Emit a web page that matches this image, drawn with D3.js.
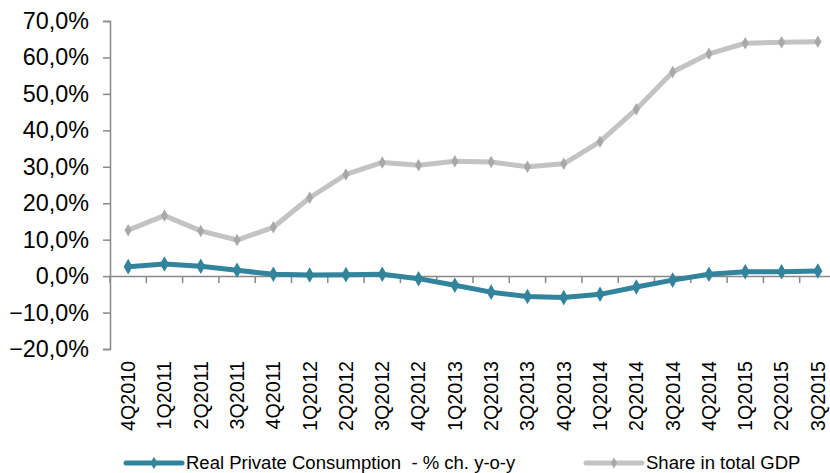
<!DOCTYPE html>
<html>
<head>
<meta charset="utf-8">
<script src="https://cdn.jsdelivr.net/npm/d3@7/dist/d3.min.js"></script>
<style>
  html, body { margin: 0; padding: 0; background: #fff; }
  svg { display: block; font-family: "Liberation Sans", Arial, sans-serif; }
  text { white-space: pre; }
</style>
</head>
<body>
<svg id="chart" width="830" height="473"></svg>
<script>
const categories = ["4Q2010","1Q2011","2Q2011","3Q2011","4Q2011","1Q2012","2Q2012","3Q2012","4Q2012","1Q2013","2Q2013","3Q2013","4Q2013","1Q2014","2Q2014","3Q2014","4Q2014","1Q2015","2Q2015","3Q2015"];
const consumption = [2.6, 3.3, 2.7, 1.6, 0.5, 0.3, 0.4, 0.5, -0.7, -2.5, -4.4, -5.6, -5.9, -5.0, -3.0, -1.1, 0.5, 1.2, 1.2, 1.4];
const shareGDP = [12.6, 16.6, 12.4, 9.9, 13.4, 21.5, 27.9, 31.2, 30.4, 31.5, 31.3, 30.0, 30.8, 36.9, 45.8, 56.0, 61.0, 63.9, 64.2, 64.3];
const yTicks = [-20, -10, 0, 10, 20, 30, 40, 50, 60, 70];
const seriesNames = ["Real Private Consumption  - % ch. y-o-y", "Share in total GDP"];

const svg = d3.select("#chart");
const mLeft = 110, mTop = 21, mBottom = 349, bandW = 36.3;
const mRight = mLeft + bandW * categories.length;

const x = d3.scaleBand().domain(categories).range([mLeft, mRight]).paddingInner(0).paddingOuter(0);
const y = d3.scaleLinear().domain([-20, 70]).range([mBottom, mTop]);
const cx = c => x(c) + x.bandwidth() / 2;

const loc = d3.formatLocale({decimal: ",", thousands: ".", grouping: [3], currency: ["", ""]});
const fmt = v => loc.format(".1f")(v) + "%";

// font size that makes a sample string a given width
function fitSize(sample, targetWidth) {
  const t = svg.append("text").style("font-size", "100px").text(sample);
  const w = t.node().getComputedTextLength();
  t.remove();
  return w > 0 ? (100 * targetWidth / w) : 20;
}
const yFont = fitSize("-20,0%", 74);
const xFont = fitSize("4Q2010", 70);
const legFont = fitSize("Share in total GDP", 154.5);

const axisColor = "#888888";

// Y axis
const yAxis = svg.append("g")
  .attr("transform", `translate(${mLeft},0)`)
  .call(d3.axisLeft(y).tickValues(yTicks).tickSize(7).tickPadding(14).tickFormat(fmt));
yAxis.attr("font-family", null).attr("font-size", null);
yAxis.select(".domain").attr("stroke", axisColor).attr("stroke-width", 1.5);
yAxis.selectAll(".tick line").attr("stroke", axisColor).attr("stroke-width", 1.5);
yAxis.selectAll(".tick text").style("font-size", yFont + "px").attr("fill", "#000");

// X axis at zero line (ticks at category boundaries)
const zeroY = y(0);
const xAxis = svg.append("g")
  .attr("transform", `translate(0,${zeroY})`)
  .call(d3.axisBottom(x).tickSize(0).tickFormat(""));
xAxis.select(".domain").attr("stroke", axisColor).attr("stroke-width", 1.5);
xAxis.selectAll(".tick").remove();
const boundaries = categories.map(c => x(c)).concat([mRight]);
xAxis.selectAll("line.bt").data(boundaries).enter().append("line")
  .attr("class", "bt")
  .attr("x1", d => d).attr("x2", d => d)
  .attr("y1", 0).attr("y2", 7)
  .attr("stroke", axisColor).attr("stroke-width", 1.5);

// X labels at bottom
svg.append("g").selectAll("text").data(categories).enter().append("text")
  .attr("transform", d => `translate(${cx(d)},361) rotate(-90)`)
  .attr("text-anchor", "end")
  .attr("dy", "0.35em")
  .style("font-size", xFont + "px")
  .attr("fill", "#000")
  .text(d => d);

const diamond = d3.symbol().type(d3.symbolDiamond);

function drawSeries(values, lineColor, markerColor, width, msize) {
  const line = d3.line().x((d, i) => cx(categories[i])).y(d => y(d));
  svg.append("path").datum(values)
    .attr("d", line)
    .attr("fill", "none")
    .attr("stroke", lineColor)
    .attr("stroke-width", width)
    .attr("stroke-linejoin", "round");
  svg.append("g").selectAll("path").data(values).enter().append("path")
    .attr("d", diamond.size(msize))
    .attr("transform", (d, i) => `translate(${cx(categories[i])},${y(d)})`)
    .attr("fill", markerColor);
}

drawSeries(consumption, "#31849B", "#31849B", 5, 70);
drawSeries(shareGDP, "#C3C3C3", "#A8A8A8", 5, 45);

// Legend
const legend = [
  {name: seriesNames[0], color: "#31849B", mcolor: "#31849B", x1: 126, x2: 182, tx: 186, ms: 45},
  {name: seriesNames[1], color: "#C3C3C3", mcolor: "#A8A8A8", x1: 586, x2: 642, tx: 646, ms: 35}
];
const ly = 463;
legend.forEach(l => {
  svg.append("line").attr("x1", l.x1).attr("x2", l.x2).attr("y1", ly).attr("y2", ly)
    .attr("stroke", l.color).attr("stroke-width", 5).attr("stroke-linecap", "round");
  svg.append("path").attr("d", diamond.size(l.ms)).attr("transform", `translate(${(l.x1 + l.x2) / 2},${ly})`).attr("fill", l.mcolor);
  svg.append("text").attr("x", l.tx).attr("y", ly).attr("dy", "0.35em")
    .style("font-size", legFont + "px").attr("fill", "#000").text(l.name);
});
</script>
</body>
</html>
